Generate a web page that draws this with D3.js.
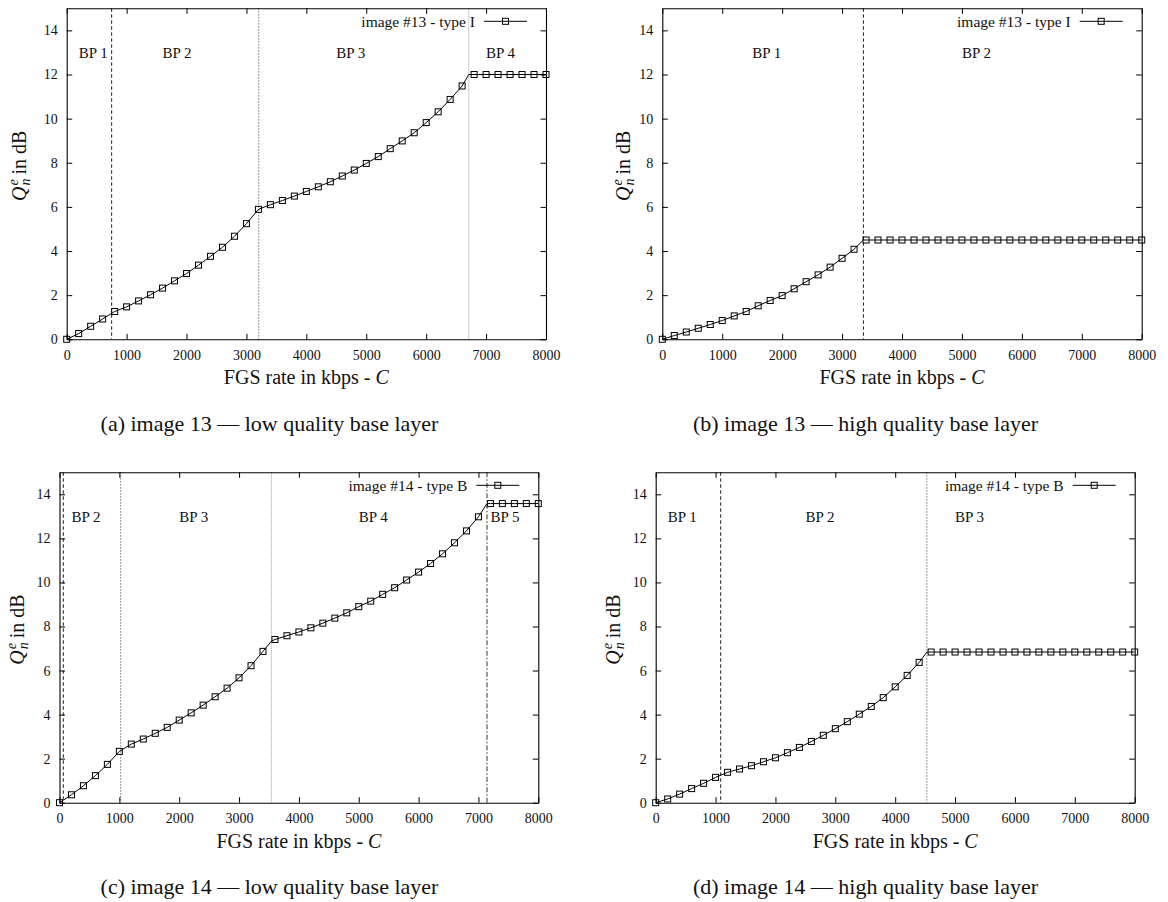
<!DOCTYPE html>
<html><head><meta charset="utf-8">
<script src="https://cdn.jsdelivr.net/npm/d3@7"></script>
<style>
html,body{margin:0;padding:0;background:#fff;}
svg{display:block;font-family:"Liberation Serif","Times New Roman",serif;}
</style></head>
<body><svg id="chart" width="1168" height="902"></svg>
<script>
// ---------- data ----------
const rates = [0,200,400,600,800,1000,1200,1400,1600,1800,2000,2200,2400,2600,2800,3000,3200,3400,3600,3800,
  4000,4200,4400,4600,4800,5000,5200,5400,5600,5800,6000,6200,6400,6600,6800,7000,7200,7400,7600,7800,8000];
const xTicks = [0,1000,2000,3000,4000,5000,6000,7000,8000];
const yTicks = [0,2,4,6,8,10,12,14];

const qA = [0,0.26,0.59,0.92,1.26,1.47,1.74,2.02,2.32,2.65,2.98,3.36,3.76,4.17,4.67,5.24,5.89,6.10,6.29,6.49,
  6.70,6.91,7.14,7.40,7.67,7.97,8.28,8.64,8.99,9.36,9.82,10.31,10.87,11.48,12.0,12.0,12.0,12.0,12.0,12.0,12.0];
const qB = [0,0.17,0.33,0.50,0.67,0.85,1.06,1.26,1.52,1.76,1.98,2.29,2.61,2.92,3.27,3.67,4.08,4.50,4.50,4.50,
  4.50,4.50,4.50,4.50,4.50,4.50,4.50,4.50,4.50,4.50,4.50,4.50,4.50,4.50,4.50,4.50,4.50,4.50,4.50,4.50,4.50];
const qC = [0,0.36,0.77,1.23,1.74,2.33,2.66,2.89,3.15,3.42,3.75,4.08,4.43,4.81,5.20,5.67,6.22,6.87,7.41,7.58,
  7.75,7.94,8.15,8.38,8.62,8.90,9.15,9.46,9.76,10.11,10.47,10.86,11.30,11.80,12.34,12.98,13.58,13.58,13.58,13.58,13.58];
const qD = [0,0.17,0.39,0.64,0.88,1.15,1.38,1.53,1.68,1.86,2.04,2.27,2.51,2.78,3.06,3.36,3.68,4.02,4.37,4.77,
  5.26,5.78,6.37,6.84,6.84,6.84,6.84,6.84,6.84,6.84,6.84,6.84,6.84,6.84,6.84,6.84,6.84,6.84,6.84,6.84,6.84];

// extra curve vertices at the breakpoints (no marker)
const kneeA = [[6711, 12.0]];
const kneeB = [[3356, 4.50]];
const kneeC = [[3540, 7.33],[7143, 13.58]];
const kneeD = [[4529, 6.84]];

// breakpoint positions and line kinds
const bpA = [750, 3205, 6711];       const bpKindA = ["dash","dot","fine"];
const bpB = [3356];                  const bpKindB = ["dash"];
const bpC = [64, 1022, 3540, 7143];  const bpKindC = ["dash","dot","fine","dashdot"];
const bpD = [1085, 4529];            const bpKindD = ["dash","dot"];

// region labels
const labA = ["BP 1","BP 2","BP 3","BP 4"]; const labXA = [200,1600,4500,7000];
const labB = ["BP 1","BP 2"];               const labXB = [1500,5000];
const labC = ["BP 2","BP 3","BP 4","BP 5"]; const labXC = [200,2000,5000,7200];
const labD = ["BP 1","BP 2","BP 3"];        const labXD = [200,2500,5000];
const labY = 13;

const legends = ["image #13 - type I","image #13 - type I","image #14 - type B","image #14 - type B"];
const captions = ["(a) image 13 \u2014 low quality base layer","(b) image 13 \u2014 high quality base layer",
  "(c) image 14 \u2014 low quality base layer","(d) image 14 \u2014 high quality base layer"];

// ---------- layout / style ----------
const kinds = {
  dash:   {dash:"3.5,2.5", color:"#222"},
  dot:    {dash:"1.2,1.8", color:"#555"},
  fine:   {dash:"1,1",     color:"#999"},
  dashdot:{dash:"5,2,1.5,2", color:"#333"}
};
const panels = [
  {box:[66.7,8.3,546,339.3],     q:qA, knee:kneeA, bp:bpA, bpKind:bpKindA, lab:labA, labX:labXA, titleGap:41, cap:[269.5,430.6]},
  {box:[662.3,8.3,1141.7,339.3], q:qB, knee:kneeB, bp:bpB, bpKind:bpKindB, lab:labB, labX:labXB, titleGap:32, cap:[865.5,430.6]},
  {box:[59.5,472.3,538.3,802.7], q:qC, knee:kneeC, bp:bpC, bpKind:bpKindC, lab:labC, labX:labXC, titleGap:36, cap:[269.5,894]},
  {box:[655.7,472.3,1134.7,802.7],q:qD, knee:kneeD, bp:bpD, bpKind:bpKindD, lab:labD, labX:labXD, titleGap:36, cap:[865.5,894]}
];

const svg = d3.select("#chart");
const FONT = '"Liberation Serif","Times New Roman",serif';
const fmt = d3.format("d");

panels.forEach((p, pi) => {
  const [L,T,R,B] = p.box;
  const x = d3.scaleLinear().domain([0,8000]).range([L,R]);
  const y = d3.scaleLinear().domain([0,15]).range([B,T]);
  const g = svg.append("g");

  // breakpoint lines
  p.bp.forEach((v,i) => {
    const s = kinds[p.bpKind[i]];
    g.append("line").attr("x1",x(v)).attr("x2",x(v)).attr("y1",T).attr("y2",B)
      .attr("stroke",s.color).attr("stroke-width",1).attr("stroke-dasharray",s.dash);
  });

  // axes (inward ticks, mirrored)
  const styleAxis = (sel, fs) => {
    sel.attr("font-family", FONT).attr("font-size", fs);
    sel.select(".domain").attr("stroke","#000").attr("stroke-width",1.1);
    sel.selectAll(".tick line").attr("stroke","#000").attr("stroke-width",1);
    sel.selectAll(".tick text").attr("fill","#111");
  };
  g.append("g").attr("transform",`translate(0,${B})`)
    .call(d3.axisBottom(x).tickValues(xTicks).tickFormat(fmt).tickSizeInner(-5.5).tickSizeOuter(0).tickPadding(10.8))
    .call(s => styleAxis(s,14));
  g.append("g").attr("transform",`translate(0,${T})`)
    .call(d3.axisTop(x).tickValues(xTicks).tickSizeInner(-5.5).tickSizeOuter(0).tickFormat(""))
    .call(s => styleAxis(s,14));
  g.append("g").attr("transform",`translate(${L},0)`)
    .call(d3.axisLeft(y).tickValues(yTicks).tickFormat(fmt).tickSizeInner(-5.5).tickSizeOuter(0).tickPadding(9))
    .call(s => styleAxis(s,14));
  g.append("g").attr("transform",`translate(${R},0)`)
    .call(d3.axisRight(y).tickValues(yTicks).tickSizeInner(-5.5).tickSizeOuter(0).tickFormat(""))
    .call(s => styleAxis(s,14));

  // curve
  const pts = rates.map((r,i) => [r, p.q[i]]).concat(p.knee).sort((a,b) => a[0]-b[0]);
  const line = d3.line().x(d => x(d[0])).y(d => y(d[1]));
  g.append("path").attr("d", line(pts)).attr("fill","none").attr("stroke","#000").attr("stroke-width",1);

  // markers
  g.selectAll("rect.mk").data(rates.map((r,i) => [r, p.q[i]])).join("rect")
    .attr("class","mk")
    .attr("x", d => x(d[0]) - 3).attr("y", d => y(d[1]) - 3)
    .attr("width",6).attr("height",6)
    .attr("fill","none").attr("stroke","#000").attr("stroke-width",1);

  // region labels
  p.lab.forEach((t,i) => {
    g.append("text").attr("x", x(p.labX[i])).attr("y", y(labY)).attr("dy","0.35em")
      .attr("font-size",15).attr("fill","#111").text(t);
  });

  // legend
  const ly = T + 13;
  g.append("text").attr("x", R - 71).attr("y", ly).attr("dy","0.35em")
    .attr("text-anchor","end").attr("font-size",15.5).attr("fill","#111").text(legends[pi]);
  g.append("line").attr("x1", R - 62).attr("x2", R - 19).attr("y1", ly).attr("y2", ly)
    .attr("stroke","#000").attr("stroke-width",1);
  g.append("rect").attr("x", R - 40.5 - 3).attr("y", ly - 3).attr("width",6).attr("height",6)
    .attr("fill","none").attr("stroke","#000").attr("stroke-width",1);

  // x title
  const xt = g.append("text").attr("x",(L+R)/2).attr("y",B+45).attr("text-anchor","middle")
    .attr("font-size",20).attr("fill","#111");
  xt.append("tspan").text("FGS rate in kbps - ");
  xt.append("tspan").attr("font-style","italic").text("C");

  // y title (rotated): Q_n^e in dB
  const yg = g.append("g").attr("transform",`translate(${L - p.titleGap},${(T+B)/2 - 8}) rotate(-90)`);
  const q = yg.append("text").attr("font-size",20).attr("font-style","italic").attr("fill","#111").text("Q");
  const qw = q.node().getComputedTextLength();
  const sup = yg.append("text").attr("font-size",14).attr("font-style","italic").attr("fill","#111")
    .attr("x", qw + 1).attr("y", -8).text("e");
  const sub = yg.append("text").attr("font-size",14).attr("font-style","italic").attr("fill","#111")
    .attr("x", qw + 1).attr("y", 4).text("n");
  const sw = Math.max(sup.node().getComputedTextLength(), sub.node().getComputedTextLength());
  const rest = yg.append("text").attr("font-size",20).attr("fill","#111")
    .attr("x", qw + 1 + sw + 4).text("in dB");
  const total = qw + 1 + sw + 4 + rest.node().getComputedTextLength();
  yg.selectAll("text").attr("transform", `translate(${-total/2},0)`);

  // caption
  svg.append("text").attr("x", p.cap[0]).attr("y", p.cap[1]).attr("text-anchor","middle")
    .attr("font-size",22).attr("fill","#111").text(captions[pi]);
});
</script>
</body></html>
